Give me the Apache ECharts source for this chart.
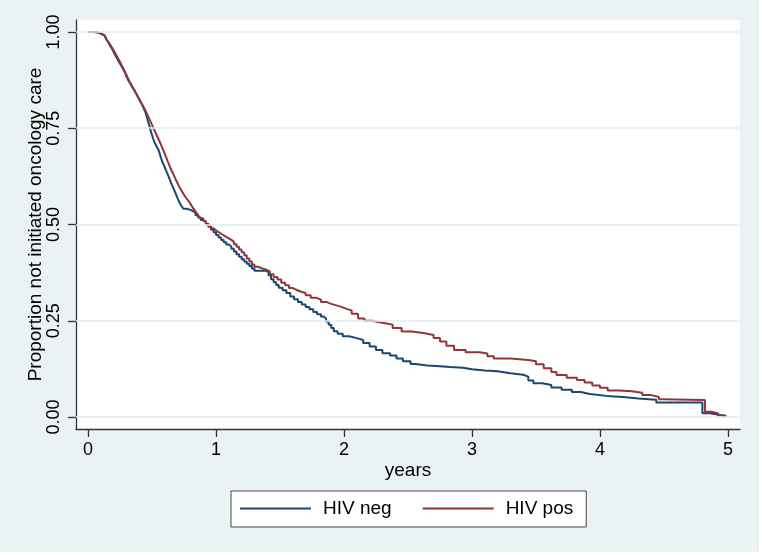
<!DOCTYPE html>
<html>
<head>
<meta charset="utf-8">
<script src="https://cdn.jsdelivr.net/npm/echarts@6/dist/echarts.min.js"></script>
<style>
  html, body { margin: 0; padding: 0; background: #ffffff; }
  #chart { position: absolute; left: 0; top: 0; width: 759px; height: 552px; }
</style>
</head>
<body>
<div id="chart"></div>
<script>
// ---- data ----
const seriesNames = ['HIV neg', 'HIV pos'];
const xTicks = [0, 1, 2, 3, 4, 5];
const yTicks = [0, 0.25, 0.5, 0.75, 1];

const negTime = [0.00, 0.04, 0.07, 0.09, 0.11, 0.13, 0.145, 0.16, 0.175, 0.19, 0.20, 0.215, 0.23, 0.245, 0.26, 0.275, 0.29, 0.30, 0.315, 0.33, 0.345, 0.36, 0.375, 0.39, 0.405, 0.42, 0.435, 0.45, 0.46, 0.47, 0.48, 0.49, 0.50, 0.51, 0.52, 0.535, 0.55, 0.56, 0.57, 0.58, 0.595, 0.61, 0.625, 0.64, 0.655, 0.67, 0.685, 0.70, 0.715, 0.73, 0.745, 0.77, 0.80, 0.82, 0.84, 0.86, 0.88, 0.90, 0.92, 0.94, 0.96, 0.98, 1.00, 1.02, 1.04, 1.06, 1.08, 1.10, 1.12, 1.14, 1.16, 1.18, 1.20, 1.22, 1.24, 1.26, 1.28, 1.30, 1.39, 1.41, 1.43, 1.45, 1.47, 1.49, 1.52, 1.55, 1.58, 1.61, 1.64, 1.67, 1.70, 1.73, 1.76, 1.79, 1.82, 1.84, 1.86, 1.88, 1.90, 1.92, 1.95, 1.99, 2.04, 2.10, 2.15, 2.20, 2.25, 2.30, 2.36, 2.41, 2.46, 2.52, 2.56, 2.65, 2.75, 2.83, 2.93, 3.00, 3.10, 3.20, 3.30, 3.40, 3.44, 3.48, 3.55, 3.62, 3.70, 3.78, 3.85, 3.92, 4.05, 4.18, 4.30, 4.44, 4.80, 4.86, 4.93, 4.98];
const negSurv = [1.000, 0.999, 0.997, 0.994, 0.990, 0.985, 0.979, 0.972, 0.963, 0.955, 0.948, 0.938, 0.929, 0.920, 0.912, 0.903, 0.893, 0.885, 0.874, 0.866, 0.857, 0.849, 0.840, 0.831, 0.822, 0.812, 0.802, 0.790, 0.778, 0.766, 0.755, 0.743, 0.732, 0.722, 0.713, 0.703, 0.694, 0.684, 0.673, 0.663, 0.652, 0.640, 0.628, 0.616, 0.603, 0.592, 0.580, 0.568, 0.557, 0.548, 0.541, 0.538, 0.535, 0.530, 0.524, 0.518, 0.512, 0.507, 0.501, 0.494, 0.487, 0.480, 0.473, 0.466, 0.460, 0.454, 0.448, 0.443, 0.437, 0.430, 0.423, 0.416, 0.410, 0.404, 0.398, 0.392, 0.386, 0.380, 0.377, 0.368, 0.358, 0.350, 0.343, 0.336, 0.329, 0.322, 0.313, 0.306, 0.299, 0.292, 0.286, 0.280, 0.273, 0.267, 0.261, 0.256, 0.248, 0.240, 0.231, 0.223, 0.216, 0.210, 0.205, 0.200, 0.192, 0.183, 0.174, 0.166, 0.160, 0.152, 0.145, 0.138, 0.134, 0.132, 0.130, 0.128, 0.124, 0.121, 0.119, 0.114, 0.110, 0.105, 0.095, 0.088, 0.083, 0.077, 0.071, 0.065, 0.060, 0.055, 0.052, 0.048, 0.045, 0.038, 0.010, 0.006, 0.003, 0.000];

const posTime = [0.00, 0.04, 0.07, 0.09, 0.11, 0.13, 0.145, 0.16, 0.175, 0.19, 0.205, 0.22, 0.235, 0.25, 0.265, 0.28, 0.295, 0.31, 0.325, 0.34, 0.355, 0.37, 0.385, 0.40, 0.415, 0.43, 0.445, 0.46, 0.475, 0.49, 0.505, 0.52, 0.535, 0.55, 0.565, 0.58, 0.595, 0.61, 0.625, 0.64, 0.655, 0.67, 0.685, 0.70, 0.715, 0.73, 0.745, 0.76, 0.775, 0.79, 0.805, 0.82, 0.835, 0.85, 0.865, 0.88, 0.90, 0.92, 0.94, 0.96, 0.98, 1.00, 1.02, 1.04, 1.06, 1.08, 1.10, 1.12, 1.14, 1.16, 1.18, 1.20, 1.22, 1.24, 1.26, 1.28, 1.30, 1.33, 1.36, 1.39, 1.42, 1.45, 1.48, 1.51, 1.54, 1.57, 1.60, 1.63, 1.66, 1.70, 1.74, 1.78, 1.82, 1.86, 1.90, 1.94, 1.98, 2.02, 2.06, 2.11, 2.16, 2.22, 2.30, 2.38, 2.45, 2.53, 2.62, 2.70, 2.75, 2.80, 2.86, 2.95, 3.06, 3.12, 3.17, 3.30, 3.44, 3.50, 3.56, 3.62, 3.66, 3.74, 3.82, 3.88, 3.94, 4.00, 4.06, 4.15, 4.25, 4.33, 4.40, 4.46, 4.49, 4.82, 4.87, 4.92, 4.98];
const posSurv = [1.000, 0.999, 0.997, 0.995, 0.991, 0.986, 0.980, 0.974, 0.966, 0.958, 0.949, 0.940, 0.931, 0.922, 0.912, 0.902, 0.892, 0.881, 0.871, 0.862, 0.853, 0.844, 0.835, 0.826, 0.817, 0.808, 0.798, 0.788, 0.777, 0.766, 0.755, 0.744, 0.733, 0.722, 0.711, 0.699, 0.687, 0.675, 0.662, 0.650, 0.639, 0.628, 0.617, 0.607, 0.597, 0.588, 0.580, 0.572, 0.565, 0.559, 0.551, 0.543, 0.536, 0.529, 0.522, 0.516, 0.509, 0.502, 0.496, 0.490, 0.485, 0.480, 0.476, 0.472, 0.468, 0.464, 0.460, 0.455, 0.449, 0.442, 0.435, 0.428, 0.420, 0.412, 0.404, 0.396, 0.390, 0.386, 0.383, 0.378, 0.371, 0.364, 0.357, 0.349, 0.342, 0.335, 0.330, 0.326, 0.322, 0.316, 0.310, 0.305, 0.299, 0.294, 0.290, 0.286, 0.281, 0.277, 0.268, 0.256, 0.250, 0.245, 0.240, 0.231, 0.222, 0.218, 0.213, 0.205, 0.196, 0.185, 0.174, 0.168, 0.165, 0.158, 0.152, 0.148, 0.145, 0.137, 0.127, 0.117, 0.109, 0.102, 0.096, 0.090, 0.082, 0.076, 0.069, 0.067, 0.063, 0.057, 0.052, 0.046, 0.044, 0.014, 0.010, 0.004, 0.000];

// ---- styles ----
const FONT = '"Liberation Sans", Arial, Helvetica, sans-serif';
const BG = '#eaf2f3';
const GRIDLINE = '#e4eef0';
const NAVY = '#1a476f';
const MAROON = '#90353b';
const AXIS = '#333333';

const zip = (xs, ys) => xs.map((x, i) => [x, ys[i]]);

const chart = echarts.init(document.getElementById('chart'), null, { renderer: 'canvas' });
chart.setOption({
  animation: false,
  backgroundColor: BG,
  textStyle: { fontFamily: FONT },
  grid: {
    left: 76, right: 19, top: 20, bottom: 123,
    show: true, backgroundColor: '#ffffff', borderWidth: 0
  },
  xAxis: {
    type: 'value',
    min: -0.094, max: 5.094,
    name: 'years',
    nameLocation: 'middle',
    nameGap: 32,
    nameMoveOverlap: false,
    nameTextStyle: { fontSize: 19, color: '#000', fontFamily: FONT },
    axisLine: { show: true, onZero: false, lineStyle: { color: AXIS, width: 1.3 } },
    axisTick: { show: true, length: 8, customValues: xTicks, lineStyle: { color: AXIS, width: 1.3 } },
    axisLabel: { customValues: xTicks, fontSize: 18, color: '#000', margin: 12, fontFamily: FONT },
    splitLine: { show: false }
  },
  yAxis: {
    type: 'value',
    min: -0.031, max: 1.031,
    name: 'Proportion not initiated oncology care',
    nameLocation: 'middle',
    nameGap: 31,
    nameMoveOverlap: false,
    nameTextStyle: { fontSize: 19, color: '#000', fontFamily: FONT },
    axisLine: { show: true, onZero: false, lineStyle: { color: AXIS, width: 1.3 } },
    axisTick: { show: true, length: 8, customValues: yTicks, lineStyle: { color: AXIS, width: 1.3 } },
    axisLabel: {
      customValues: yTicks, rotate: 90, fontSize: 18, color: '#000', margin: 13, fontFamily: FONT,
      formatter: v => Number(v).toFixed(2)
    },
    splitLine: { show: false }
  },
  legend: {
    data: seriesNames,
    left: 231, top: 491,
    orient: 'horizontal',
    icon: 'rect',
    itemWidth: 71, itemHeight: 2,
    itemGap: 31,
    padding: [8, 13, 9, 9],
    backgroundColor: '#ffffff',
    borderColor: '#444444', borderWidth: 1, borderRadius: 0,
    textStyle: { fontSize: 19, color: '#000', fontFamily: FONT, padding: [0, 0, 0, 7] }
  },
  series: [
    {
      name: '_grid', type: 'line', data: [], silent: true, z: 1,
      markLine: {
        silent: true, symbol: 'none', label: { show: false },
        lineStyle: { color: GRIDLINE, type: 'solid', width: 1.5 },
        data: yTicks.map(v => ({ yAxis: v }))
      }
    },
    {
      name: seriesNames[0], type: 'line', step: 'end', showSymbol: false, symbol: 'none', z: 3,
      data: zip(negTime, negSurv),
      lineStyle: { color: NAVY, width: 2 }, itemStyle: { color: NAVY }
    },
    {
      name: seriesNames[1], type: 'line', step: 'end', showSymbol: false, symbol: 'none', z: 4,
      data: zip(posTime, posSurv),
      lineStyle: { color: MAROON, width: 2 }, itemStyle: { color: MAROON }
    }
  ]
});
</script>
</body>
</html>
